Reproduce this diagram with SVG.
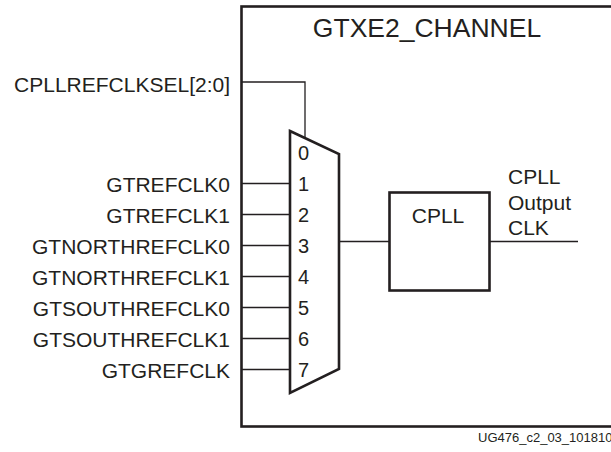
<svg xmlns="http://www.w3.org/2000/svg" width="611" height="452" viewBox="0 0 611 452">
<style>
text{font-family:"Liberation Sans",Arial,sans-serif;fill:#231f20}
.lbl{font-size:21px;text-anchor:end}
.num{font-size:20px}
.thick{fill:none;stroke:#231f20;stroke-width:2.6}
.wire{fill:none;stroke:#231f20;stroke-width:1.3}
</style>
<rect width="611" height="452" fill="#fff"/>
<g id="gtxe2_channel">
<rect class="thick" x="241.5" y="6.5" width="420" height="420"/>
<text x="427" y="37" font-size="26.5" text-anchor="middle">GTXE2_CHANNEL</text>
</g>
<g id="mux">
<path class="thick" d="M290,131 L339,154 L339,369 L290,393 Z"/>
<text class="num" x="298" y="159.5">0</text>
<text class="num" x="298" y="190.5">1</text>
<text class="num" x="298" y="221.5">2</text>
<text class="num" x="298" y="252.5">3</text>
<text class="num" x="298" y="283.5">4</text>
<text class="num" x="298" y="314.5">5</text>
<text class="num" x="298" y="345.5">6</text>
<text class="num" x="298" y="376.5">7</text>
</g>
<g id="cpll">
<rect class="thick" x="389.5" y="192.5" width="100" height="98"/>
<text x="438" y="222.5" font-size="21" text-anchor="middle">CPLL</text>
</g>
<g id="inputs">
<text class="lbl" x="230" y="91.5">CPLLREFCLKSEL[2:0]</text>
<text class="lbl" x="230" y="191.5">GTREFCLK0</text>
<text class="lbl" x="230" y="222.5">GTREFCLK1</text>
<text class="lbl" x="230" y="253.5">GTNORTHREFCLK0</text>
<text class="lbl" x="230" y="284.5">GTNORTHREFCLK1</text>
<text class="lbl" x="230" y="315.5">GTSOUTHREFCLK0</text>
<text class="lbl" x="230" y="346.5">GTSOUTHREFCLK1</text>
<text class="lbl" x="230" y="377.5">GTGREFCLK</text>
</g>
<g id="output_label">
<text x="508" y="184" font-size="21">CPLL</text>
<text x="508" y="209.5" font-size="21">Output</text>
<text x="508" y="235" font-size="21">CLK</text>
</g>
<g id="connectors">
<path class="wire" d="M241,82 H305 V138"/>
<path class="wire" d="M241,183.5 H290 M241,214.5 H290 M241,245.5 H290 M241,276.5 H290 M241,307.5 H290 M241,338.5 H290 M241,369.5 H290"/>
<path class="wire" d="M339,241.5 H389"/>
<path class="wire" d="M490,241.5 H578"/>
</g>
<text x="478" y="442" font-size="13">UG476_c2_03_101810</text>
</svg>
